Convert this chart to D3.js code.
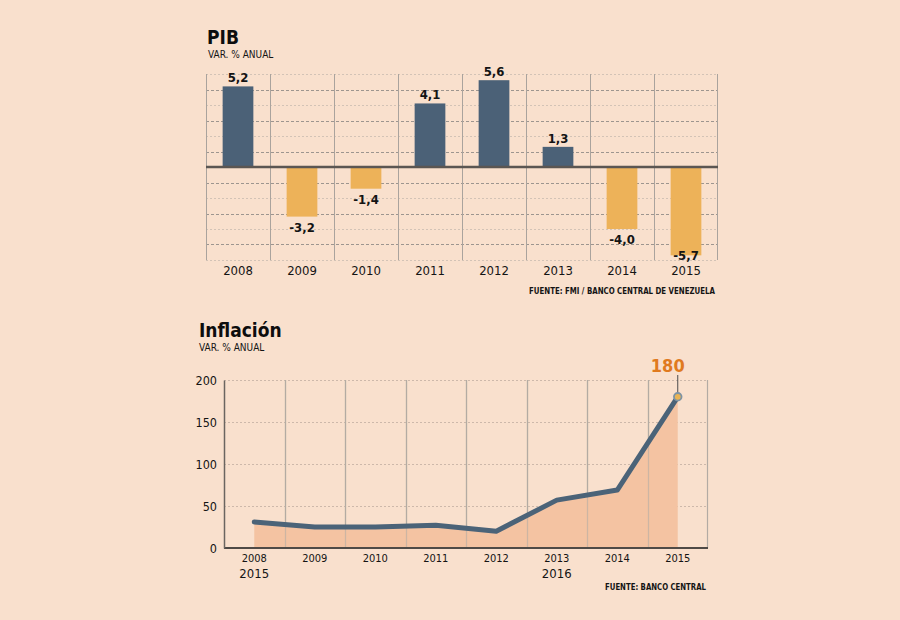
<!DOCTYPE html>
<html>
<head>
<meta charset="utf-8">
<script src="https://cdn.jsdelivr.net/npm/d3@7"></script>
<style>
  body { margin: 0; background: #f9e0cd; }
  text { font-family: "DejaVu Sans Condensed", "DejaVu Sans", sans-serif; fill: #141414; }
</style>
</head>
<body>
<script>
var years = ["2008", "2009", "2010", "2011", "2012", "2013", "2014", "2015"];
var pibValues = [5.2, -3.2, -1.4, 4.1, 5.6, 1.3, -4.0, -5.7];
var pibTicks = [-6, -5, -4, -3, -2, -1, 1, 2, 3, 4, 5, 6];

var inflacionYears = ["2008", "2009", "2010", "2011", "2012", "2013", "2014", "2015"];
var inflacionValues = [31, 25, 25, 27, 20, 57, 69, 180];
var inflacionSubLabels = ["2015", "", "", "", "", "2016", "", ""];
var inflacionTicks = [0, 50, 100, 150, 200];

var svg = d3.select("body")
    .append("svg")
    .attr("width", "900")
    .attr("height", "620")
    .style("display", "block");

svg.append("rect")
    .attr("width", 900)
    .attr("height", 620)
    .attr("fill", "#f9e0cd");

var fmtComma = function(v) { return d3.format(".1f")(v).replace(".", ",").replace("\u2212", "-"); };

// ---------- PIB ----------
var pibBox = {left: 206, right: 718, top: 74, bottom: 260};

var x1 = d3.scaleBand()
    .domain(years)
    .range([pibBox.left, pibBox.right])
    .paddingInner(0.52)
    .paddingOuter(0.26);

var xb1 = d3.scaleBand()
    .domain(years)
    .range([pibBox.left, pibBox.right]);

var y1 = d3.scaleLinear()
    .domain([-6, 6])
    .range([pibBox.bottom, pibBox.top]);

svg.append("text")
    .attr("x", 207)
    .attr("y", 44)
    .style("font-size", "19px")
    .style("font-weight", "bold")
    .style("fill", "#0d0d0d")
    .text("PIB");

svg.append("text")
    .attr("x", 208)
    .attr("y", 58)
    .style("font-size", "10px")
    .text("VAR. % ANUAL");

var g1 = svg.append("g");

g1.selectAll(".hgrid")
    .data(pibTicks)
    .enter()
    .append("line")
    .attr("x1", pibBox.left)
    .attr("x2", pibBox.right)
    .attr("y1", function(d) { return Math.round(y1(d)) + 0.5; })
    .attr("y2", function(d) { return Math.round(y1(d)) + 0.5; })
    .attr("stroke", function(d) { return Math.abs(d) % 2 == 1 ? "#9d958f" : "#d3c3b6"; })
    .attr("stroke-dasharray", function(d) { return Math.abs(d) % 2 == 1 ? "3,2" : "2,2"; })
    .attr("stroke-width", 1);

g1.selectAll(".vgrid")
    .data(years.concat(["end"]))
    .enter()
    .append("line")
    .attr("x1", function(d) { return d == "end" ? pibBox.right - 0.5 : Math.round(xb1(d)) + 0.5; })
    .attr("x2", function(d) { return d == "end" ? pibBox.right - 0.5 : Math.round(xb1(d)) + 0.5; })
    .attr("y1", y1(6))
    .attr("y2", y1(-6))
    .attr("stroke", "#aaa39d")
    .attr("stroke-width", 1);

g1.selectAll("rect.bar")
    .data(pibValues)
    .enter()
    .append("rect")
    .attr("class", "bar")
    .attr("x", function(d, i) { return x1(years[i]); })
    .attr("width", x1.bandwidth())
    .attr("y", function(d) { return d > 0 ? y1(d) : y1(0); })
    .attr("height", function(d) { return Math.abs(y1(d) - y1(0)); })
    .attr("fill", function(d) { return d > 0 ? "#4b6177" : "#edb259"; });

g1.append("line")
    .attr("x1", pibBox.left)
    .attr("x2", pibBox.right)
    .attr("y1", y1(0))
    .attr("y2", y1(0))
    .attr("stroke", "#5b5652")
    .attr("stroke-width", 2.5);

g1.selectAll("text.val")
    .data(pibValues)
    .enter()
    .append("text")
    .attr("class", "val")
    .attr("x", function(d, i) { return x1(years[i]) + x1.bandwidth() / 2; })
    .attr("y", function(d) { return d > 0 ? y1(d) - 4 : Math.min(y1(d) + 15, 260); })
    .attr("text-anchor", "middle")
    .style("font-size", "13px")
    .style("font-weight", "bold")
    .text(function(d) { return fmtComma(d); });

var xAxis1 = d3.axisBottom(x1).tickSize(0).tickPadding(0);
svg.append("g")
    .attr("transform", "translate(0,266)")
    .call(xAxis1)
    .call(function(g) { g.select(".domain").remove(); })
    .selectAll("text")
    .attr("dy", "0.71em")
    .style("font-size", "13px")
    .style("font-family", "'DejaVu Sans Condensed', 'DejaVu Sans', sans-serif")
    .style("fill", "#141414");

svg.append("text")
    .attr("x", 715)
    .attr("y", 294)
    .attr("text-anchor", "end")
    .attr("textLength", 186)
    .attr("lengthAdjust", "spacingAndGlyphs")
    .style("font-size", "9.5px")
    .style("font-weight", "bold")
    .text("FUENTE: FMI / BANCO CENTRAL DE VENEZUELA");

// ---------- Inflación ----------
var infBox = {left: 224, right: 708, top: 380, bottom: 548};

var x2 = d3.scaleBand()
    .domain(inflacionYears)
    .range([infBox.left, infBox.right]);

var y2 = d3.scaleLinear()
    .domain([0, 200])
    .range([infBox.bottom, infBox.top]);

svg.append("text")
    .attr("x", 199)
    .attr("y", 337)
    .style("font-size", "19px")
    .style("font-weight", "bold")
    .style("fill", "#0d0d0d")
    .text("Inflación");

svg.append("text")
    .attr("x", 199)
    .attr("y", 351)
    .style("font-size", "10px")
    .text("VAR. % ANUAL");

var g2 = svg.append("g");

g2.selectAll(".hgrid")
    .data(inflacionTicks.slice(1))
    .enter()
    .append("line")
    .attr("x1", infBox.left)
    .attr("x2", infBox.right)
    .attr("y1", function(d) { return Math.round(y2(d)) + 0.5; })
    .attr("y2", function(d) { return Math.round(y2(d)) + 0.5; })
    .attr("stroke", "#cdb8aa")
    .attr("stroke-dasharray", "2,2")
    .attr("stroke-width", 1);

g2.selectAll(".vgrid")
    .data(inflacionYears.slice(1).concat(["end"]))
    .enter()
    .append("line")
    .attr("x1", function(d) { return d == "end" ? infBox.right - 0.5 : Math.round(x2(d)) + 0.5; })
    .attr("x2", function(d) { return d == "end" ? infBox.right - 0.5 : Math.round(x2(d)) + 0.5; })
    .attr("y1", y2(200))
    .attr("y2", y2(0))
    .attr("stroke", "#b3aba4")
    .attr("stroke-width", 1.2);

var cx = function(d, i) { return x2(inflacionYears[i]) + x2.bandwidth() / 2; };

var area = d3.area()
    .x(cx)
    .y0(y2(0))
    .y1(function(d) { return y2(d); });

g2.append("path")
    .datum(inflacionValues)
    .attr("d", area)
    .attr("fill", "#f4c3a2");

// grid verticals again, faintly, over the area
g2.selectAll(".vgrid2")
    .data(inflacionYears.slice(1))
    .enter()
    .append("line")
    .attr("x1", function(d) { return Math.round(x2(d)) + 0.5; })
    .attr("x2", function(d) { return Math.round(x2(d)) + 0.5; })
    .attr("y1", y2(200))
    .attr("y2", y2(0))
    .attr("stroke", "#b3aba4")
    .attr("stroke-opacity", 0.6)
    .attr("stroke-width", 1.2);

var line = d3.line()
    .x(cx)
    .y(function(d) { return y2(d); });

g2.append("path")
    .datum(inflacionValues)
    .attr("d", line)
    .attr("fill", "none")
    .attr("stroke", "#4b6378")
    .attr("stroke-width", 5)
    .attr("stroke-linecap", "round")
    .attr("stroke-linejoin", "round");

var yAxis2 = d3.axisLeft(y2).tickValues(inflacionTicks).tickSize(0).tickPadding(7);
svg.append("g")
    .attr("transform", "translate(" + infBox.left + ",0)")
    .call(yAxis2)
    .call(function(g) { g.select(".domain").attr("stroke", "#6b6560").attr("stroke-width", 1.5); })
    .selectAll("text")
    .style("font-size", "12.5px")
    .style("font-family", "'DejaVu Sans Condensed', 'DejaVu Sans', sans-serif")
    .style("fill", "#141414");

g2.append("line")
    .attr("x1", infBox.left)
    .attr("x2", infBox.right)
    .attr("y1", y2(0))
    .attr("y2", y2(0))
    .attr("stroke", "#4f4a46")
    .attr("stroke-width", 2);

var last = inflacionValues.length - 1;
var lx = cx(inflacionValues[last], last);
var ly = y2(inflacionValues[last]);

g2.append("line")
    .attr("x1", lx)
    .attr("x2", lx)
    .attr("y1", 375)
    .attr("y2", ly)
    .attr("stroke", "#4b4b4b")
    .attr("stroke-width", 1);

g2.append("circle")
    .attr("cx", lx)
    .attr("cy", ly)
    .attr("r", 3.8)
    .attr("fill", "#e9b455")
    .attr("stroke", "#7d93a5")
    .attr("stroke-width", 1.8);

g2.append("text")
    .attr("x", lx - 10)
    .attr("y", 372)
    .attr("text-anchor", "middle")
    .style("font-size", "18px")
    .style("font-weight", "bold")
    .style("fill", "#e07a1e")
    .text(d3.format("d")(inflacionValues[last]));

var xAxis2 = d3.axisBottom(x2).tickSize(0).tickPadding(0);
svg.append("g")
    .attr("transform", "translate(0,554)")
    .call(xAxis2)
    .call(function(g) { g.select(".domain").remove(); })
    .selectAll("text")
    .attr("dy", "0.71em")
    .style("font-size", "11px")
    .style("font-family", "'DejaVu Sans Condensed', 'DejaVu Sans', sans-serif")
    .style("fill", "#141414");

svg.selectAll("text.sub")
    .data(inflacionSubLabels)
    .enter()
    .append("text")
    .attr("class", "sub")
    .attr("x", function(d, i) { return x2(inflacionYears[i]) + x2.bandwidth() / 2; })
    .attr("y", 578)
    .attr("text-anchor", "middle")
    .style("font-size", "13px")
    .text(function(d) { return d; });

svg.append("text")
    .attr("x", 706)
    .attr("y", 590)
    .attr("text-anchor", "end")
    .attr("textLength", 101)
    .attr("lengthAdjust", "spacingAndGlyphs")
    .style("font-size", "9.5px")
    .style("font-weight", "bold")
    .text("FUENTE: BANCO CENTRAL");
</script>
</body>
</html>
